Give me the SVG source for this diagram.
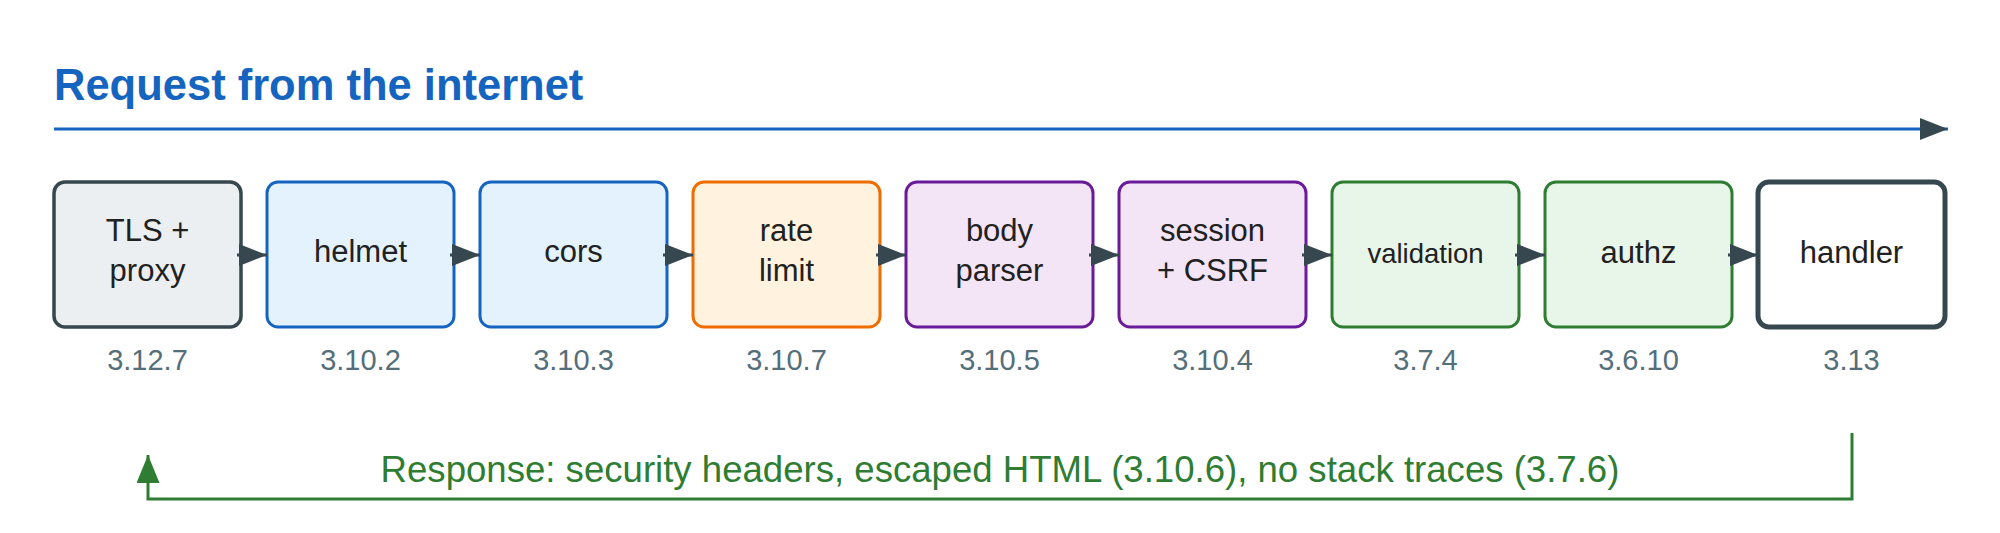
<svg xmlns="http://www.w3.org/2000/svg" width="2000" height="533" viewBox="0 0 2000 533">
<style>
.bg{fill:#ffffff}
.box{stroke-width:3}
.lbl{font-family:"Liberation Sans",Arial,sans-serif;font-size:31px;fill:#212121;text-anchor:middle}
.sm{font-size:27.5px}
.num{font-family:"Liberation Sans",Arial,sans-serif;font-size:29px;fill:#546e7a;text-anchor:middle}
.title{font-family:"Liberation Sans",Arial,sans-serif;font-size:43.5px;font-weight:bold;fill:#1565c0}
.resp{font-family:"Liberation Sans",Arial,sans-serif;font-size:36.6px;fill:#2e7d32;text-anchor:middle}
.gray{fill:#eceff1;stroke:#37474f;stroke-width:3.5}
.blue{fill:#e3f2fd;stroke:#1565c0}
.orange{fill:#fff3e0;stroke:#ef6c00}
.purple{fill:#f3e5f5;stroke:#6a1b9a}
.green{fill:#e8f5e9;stroke:#2e7d32}
.white{fill:#ffffff;stroke:#37474f;stroke-width:5}
.link{stroke:#37474f;stroke-width:3;fill:none}
</style>
<defs>
<marker id="ah" markerUnits="userSpaceOnUse" markerWidth="28" markerHeight="22" viewBox="0 0 28 22" refX="28" refY="11" orient="auto">
<path d="M0,0 L28,11 L0,22 z" fill="#37474f"/>
</marker>
<marker id="ahg" markerUnits="userSpaceOnUse" markerWidth="28" markerHeight="23" viewBox="0 0 28 23" refX="28" refY="11.5" orient="auto">
<path d="M0,0 L28,11.5 L0,23 z" fill="#2e7d32"/>
</marker>
</defs>
<rect class="bg" x="0" y="0" width="2000" height="533"/>
<text class="title" x="54" y="100">Request from the internet</text>

<g id="node-tls"><rect class="box gray" x="54" y="182" width="187" height="145" rx="11"/><text class="lbl" x="147.5" y="241">TLS +</text><text class="lbl" x="147.5" y="281">proxy</text><text class="num" x="147.5" y="370">3.12.7</text></g>
<g id="node-helmet"><rect class="box blue" x="267" y="182" width="187" height="145" rx="11"/><text class="lbl" x="360.5" y="262">helmet</text><text class="num" x="360.5" y="370">3.10.2</text></g>
<g id="node-cors"><rect class="box blue" x="480" y="182" width="187" height="145" rx="11"/><text class="lbl" x="573.5" y="262">cors</text><text class="num" x="573.5" y="370">3.10.3</text></g>
<g id="node-rate"><rect class="box orange" x="693" y="182" width="187" height="145" rx="11"/><text class="lbl" x="786.5" y="241">rate</text><text class="lbl" x="786.5" y="281">limit</text><text class="num" x="786.5" y="370">3.10.7</text></g>
<g id="node-body"><rect class="box purple" x="906" y="182" width="187" height="145" rx="11"/><text class="lbl" x="999.5" y="241">body</text><text class="lbl" x="999.5" y="281">parser</text><text class="num" x="999.5" y="370">3.10.5</text></g>
<g id="node-session"><rect class="box purple" x="1119" y="182" width="187" height="145" rx="11"/><text class="lbl" x="1212.5" y="241">session</text><text class="lbl" x="1212.5" y="281">+ CSRF</text><text class="num" x="1212.5" y="370">3.10.4</text></g>
<g id="node-validation"><rect class="box green" x="1332" y="182" width="187" height="145" rx="11"/><text class="lbl sm" x="1425.5" y="263">validation</text><text class="num" x="1425.5" y="370">3.7.4</text></g>
<g id="node-authz"><rect class="box green" x="1545" y="182" width="187" height="145" rx="11"/><text class="lbl" x="1638.5" y="263">authz</text><text class="num" x="1638.5" y="370">3.6.10</text></g>
<g id="node-handler"><rect class="box white" x="1758" y="182" width="187" height="145" rx="11"/><text class="lbl" x="1851.5" y="263">handler</text><text class="num" x="1851.5" y="370">3.13</text></g>

<g id="connectors">
<line x1="54" y1="129" x2="1948" y2="129" stroke="#1565c0" stroke-width="3" marker-end="url(#ah)"/>
<line class="link" x1="237" y1="255" x2="267" y2="255" marker-end="url(#ah)"/>
<line class="link" x1="450" y1="255" x2="480" y2="255" marker-end="url(#ah)"/>
<line class="link" x1="663" y1="255" x2="693" y2="255" marker-end="url(#ah)"/>
<line class="link" x1="876" y1="255" x2="906" y2="255" marker-end="url(#ah)"/>
<line class="link" x1="1089" y1="255" x2="1119" y2="255" marker-end="url(#ah)"/>
<line class="link" x1="1302" y1="255" x2="1332" y2="255" marker-end="url(#ah)"/>
<line class="link" x1="1515" y1="255" x2="1545" y2="255" marker-end="url(#ah)"/>
<line class="link" x1="1728" y1="255" x2="1758" y2="255" marker-end="url(#ah)"/>
<polyline points="1852,433 1852,499 148,499 148,455" fill="none" stroke="#2e7d32" stroke-width="3" marker-end="url(#ahg)"/>
<text class="resp" x="1000" y="482">Response: security headers, escaped HTML (3.10.6), no stack traces (3.7.6)</text>
</g>
</svg>
